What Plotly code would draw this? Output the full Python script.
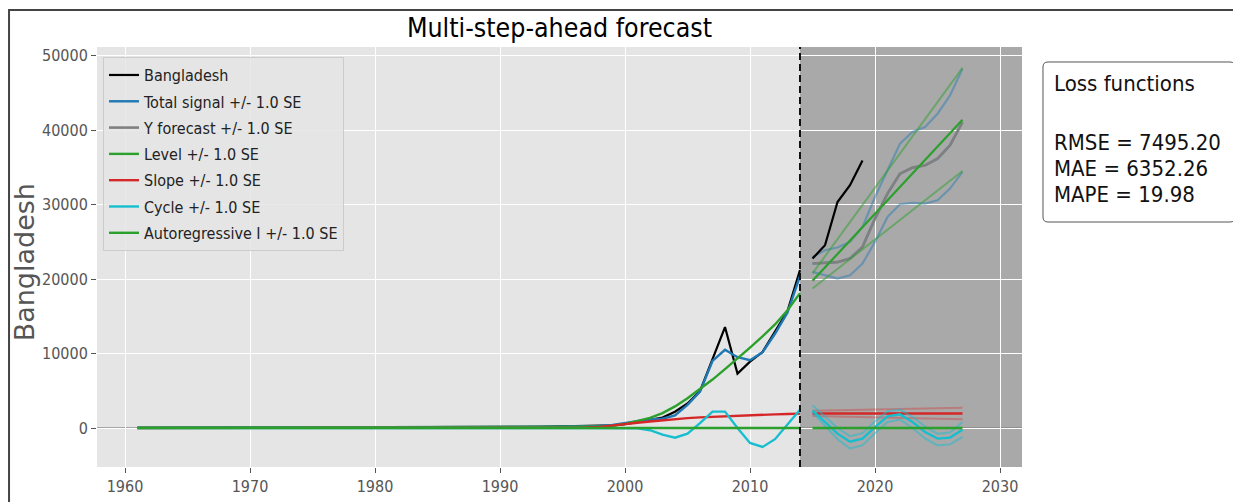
import plotly.graph_objects as go

# ---------------- data ----------------
years_in = list(range(1961, 2015))
years_fc = list(range(2015, 2028))
years_test = list(range(2015, 2020))

actual_in = [20, 22, 25, 27, 30, 32, 35, 30, 38, 40, 35, 42, 45, 50, 55, 52, 60, 65, 70, 75,
             80, 85, 90, 95, 100, 105, 110, 115, 120, 130, 140, 150, 160, 175, 190, 210, 230,
             250, 350, 500, 820, 1050, 1400, 2180, 3300, 4950, 9250, 13550, 7300, 8900, 10200,
             12900, 15700, 21200]
signal_in = [22, 23, 25, 27, 29, 31, 33, 34, 37, 39, 40, 42, 45, 49, 53, 55, 59, 64, 69, 74,
             79, 84, 89, 94, 99, 104, 109, 114, 120, 129, 139, 149, 160, 174, 190, 208, 230,
             260, 400, 600, 900, 1150, 1250, 1700, 3100, 4900, 9000, 10500, 9500, 9100, 10150,
             12650, 15500, 20400]
level_in = [25, 27, 29, 31, 33, 35, 37, 39, 41, 43, 45, 47, 50, 53, 56, 59, 62, 65, 68, 72,
            76, 80, 84, 88, 92, 97, 102, 107, 112, 118, 124, 130, 137, 144, 152, 160, 170,
            190, 300, 550, 900, 1350, 2000, 2900, 4000, 5200, 6500, 7900, 9300, 10800, 12300,
            13900, 15800, 18100]
slope_in = [5, 5, 6, 6, 7, 7, 8, 8, 9, 9, 10, 10, 11, 11, 12, 12, 13, 13, 14, 14,
            15, 15, 16, 16, 17, 17, 18, 18, 19, 20, 21, 22, 24, 26, 30, 40, 60,
            150, 300, 500, 700, 880, 1050, 1200, 1320, 1420, 1500, 1580, 1650, 1710, 1770,
            1830, 1880, 1930]
cycle_in = [0, 2, 3, 1, -1, -2, -3, -1, 0, 2, 4, 2, 0, -2, -4, -3, 0, 3, 5, 3,
            0, -3, -5, -4, 0, 5, 8, 5, 0, -6, -9, -6, 0, 10, 15, 5, -20,
            -40, -30, 0, -50, -300, -900, -1300, -750, 650, 2200, 2200, 0, -2000, -2550,
            -1500, 450, 2450]
ar_in = [0] * 54

actual_test = [22740, 24530, 30340, 32580, 35920]

signal_fc = [22080, 22170, 22260, 22750, 24310, 28110, 31460, 34140, 34950, 35260, 36150, 37940, 41070]
signal_up = [22960, 23860, 24220, 24980, 26990, 31010, 34590, 38160, 39730, 40400, 42180, 44640, 48220]
signal_lo = [20960, 20510, 20060, 20510, 22070, 24980, 28330, 30030, 30210, 30120, 30560, 32130, 34370]

level_fc = [19750, 21550, 23350, 25150, 26950, 28750, 30550, 32350, 34150, 35950, 37750, 39550, 41380]
level_up = [20750, 23050, 25350, 27650, 29950, 32250, 34550, 36850, 39150, 41450, 43750, 46050, 48350]
level_lo = [18730, 20045, 21360, 22670, 23985, 25300, 26610, 27925, 29240, 30550, 31865, 33180, 34490]

slope_fc = [1950] * 13
slope_up = [2320, 2355, 2390, 2420, 2455, 2490, 2520, 2555, 2590, 2620, 2655, 2690, 2720]
slope_lo = [1610, 1570, 1535, 1500, 1460, 1425, 1385, 1350, 1310, 1275, 1235, 1200, 1160]

cycle_fc = [2370, 800, -760, -1840, -1420, 130, 1560, 1830, 800, -540, -1420, -1290, -220]
cycle_up = [3040, 1500, 0, -1100, -700, 900, 2250, 2470, 1500, 200, -760, -600, 800]
cycle_lo = [2100, 300, -1500, -2760, -2300, -700, 800, 1130, 0, -1400, -2330, -2200, -1200]

ar_fc = [0] * 13

loss_lines = ["Loss functions", "RMSE = 7495.20", "MAE = 6352.26", "MAPE = 19.98"]
x_ticks = [1960, 1970, 1980, 1990, 2000, 2010, 2020, 2030]
y_ticks = [0, 10000, 20000, 30000, 40000, 50000]

FONT = "DejaVu Sans Condensed, DejaVu Sans, sans-serif"
FONT_N = "DejaVu Sans, sans-serif"
BLACK = "#000000"
BLUE = "#1f77b4"
GREY = "#808080"
GREEN = "#2ca02c"
RED = "#d62728"
CYAN = "#17becf"


def rgba(hexc, a):
    h = hexc.lstrip("#")
    return "rgba(%d,%d,%d,%s)" % (int(h[0:2], 16), int(h[2:4], 16), int(h[4:6], 16), a)


fig = go.Figure()


def line(x, y, color, width=2.2, name=None, legend=False):
    fig.add_trace(go.Scatter(
        x=x, y=y, mode="lines", name=name, showlegend=legend,
        legendgroup=name if legend else None,
        line=dict(color=color, width=width), hoverinfo="skip"))


# in-sample
line(years_in, actual_in, BLACK, 2.2, "Bangladesh", True)
line(years_in, signal_in, BLUE, 2.4, "Total signal +/- 1.0 SE", True)
# forecast bands and centers
line(years_fc, signal_up, rgba(BLUE, 0.45), 2.2)
line(years_fc, signal_lo, rgba(BLUE, 0.45), 2.2)
line(years_fc, signal_fc, rgba(BLUE, 0.6), 2.4)
line(years_fc, signal_fc, GREY, 2.6, "Y forecast +/- 1.0 SE", True)
line(years_in, level_in, GREEN, 2.4, "Level +/- 1.0 SE", True)
line(years_fc, level_up, rgba(GREEN, 0.5), 2.0)
line(years_fc, level_lo, rgba(GREEN, 0.5), 2.0)
line(years_fc, level_fc, GREEN, 2.2)
line(years_in, slope_in, RED, 2.4, "Slope +/- 1.0 SE", True)
line(years_fc, slope_up, rgba(RED, 0.35), 2.0)
line(years_fc, slope_lo, rgba(RED, 0.35), 2.0)
line(years_fc, slope_fc, RED, 2.4)
line(years_in, cycle_in, CYAN, 2.4, "Cycle +/- 1.0 SE", True)
line(years_fc, cycle_up, rgba(CYAN, 0.5), 2.0)
line(years_fc, cycle_lo, rgba(CYAN, 0.5), 2.0)
line(years_fc, cycle_fc, CYAN, 2.4)
line(years_in, ar_in, GREEN, 2.4, "Autoregressive I +/- 1.0 SE", True)
line(years_fc, ar_fc, GREEN, 2.4)
# test data
line(years_test, actual_test, BLACK, 2.2)

X_RANGE = [1957.76, 2031.76]
Y_RANGE = [-5235, 51141]

# loss-function box (paper coordinates, rounded corners)
bx0, bx1, by0, by1 = 1.0227, 1.2303, 0.5833, 0.9643
rx, ry = 0.0054, 0.0119
box_path = ("M {a},{t} L {b},{t} Q {x1},{t} {x1},{t2} L {x1},{b2} Q {x1},{y0} {b},{y0} "
            "L {a},{y0} Q {x0},{y0} {x0},{b2} L {x0},{t2} Q {x0},{t} {a},{t} Z").format(
    a=bx0 + rx, b=bx1 - rx, t=by1, t2=by1 - ry, b2=by0 + ry, x0=bx0, x1=bx1, y0=by0)

shapes = [
    dict(type="rect", xref="x", yref="paper", x0=2014, x1=X_RANGE[1], y0=0, y1=1,
         fillcolor="#a9a9a9", line=dict(width=0), layer="between"),
    dict(type="line", xref="paper", yref="y", x0=0, x1=1, y0=0, y1=0,
         line=dict(color="rgba(128,128,128,0.85)", width=1.6), layer="between"),
    dict(type="line", xref="x", yref="paper", x0=2014, x1=2014, y0=0, y1=1,
         line=dict(color="#111111", width=2, dash="7px,4px"), layer="above"),
    dict(type="rect", xref="paper", yref="paper", x0=-0.0951, x1=1.4, y0=-0.3, y1=1.0881,
         line=dict(color="#444444", width=2), fillcolor="rgba(0,0,0,0)", layer="above"),
    dict(type="path", xref="paper", yref="paper", path=box_path, fillcolor="white",
         line=dict(color="#555555", width=1), layer="above"),
]

loss_y = [0.9131, 0.7738, 0.7119, 0.6500]
annotations = [
    dict(text="Bangladesh", xref="paper", yref="paper", x=-0.078, y=0.487,
         textangle=-90, showarrow=False, font=dict(family=FONT_N, size=27, color="#555555"),
         xanchor="center", yanchor="middle"),
]
for txt, yy in zip(loss_lines, loss_y):
    annotations.append(dict(text=txt, xref="paper", yref="paper", x=1.0335, y=yy,
                            xanchor="left", yanchor="middle", showarrow=False, borderpad=0,
                            height=24, valign="middle",
                            font=dict(family=FONT, size=22, color="#111111")))

fig.update_layout(
    width=1233, height=494,
    margin=dict(l=89, r=219, t=39, b=35, autoexpand=False),
    paper_bgcolor="white", plot_bgcolor="#e5e5e5",
    title=dict(text="Multi-step-ahead forecast", x=0.5, xref="paper", y=1 - 20 / 494,
               yref="container", xanchor="center", yanchor="middle",
               font=dict(family=FONT, size=26.5, color="#000000")),
    font=dict(family=FONT),
    xaxis=dict(range=X_RANGE, tickvals=x_ticks, showgrid=True, gridcolor="white", gridwidth=1,
               automargin=False,
               zeroline=False, showline=False, ticks="outside", ticklen=5, tickcolor="#555555",
               tickfont=dict(family=FONT, size=16, color="#555555")),
    yaxis=dict(range=Y_RANGE, tickvals=y_ticks, tickformat="d", showgrid=True,
               gridcolor="white", gridwidth=1, automargin=False,
               zeroline=False, showline=False, ticks="outside", ticklen=5, tickcolor="#555555",
               tickfont=dict(family=FONT, size=16, color="#555555")),
    legend=dict(x=0.0065, y=0.976, xanchor="left", yanchor="top",
                bgcolor="rgba(229,229,229,0.85)", bordercolor="#cccccc", borderwidth=1,
                font=dict(family=FONT, size=16, color="#222222"), tracegroupgap=2.5,
                itemwidth=30),
    shapes=shapes, annotations=annotations,
)

fig.write_html("out.html")
